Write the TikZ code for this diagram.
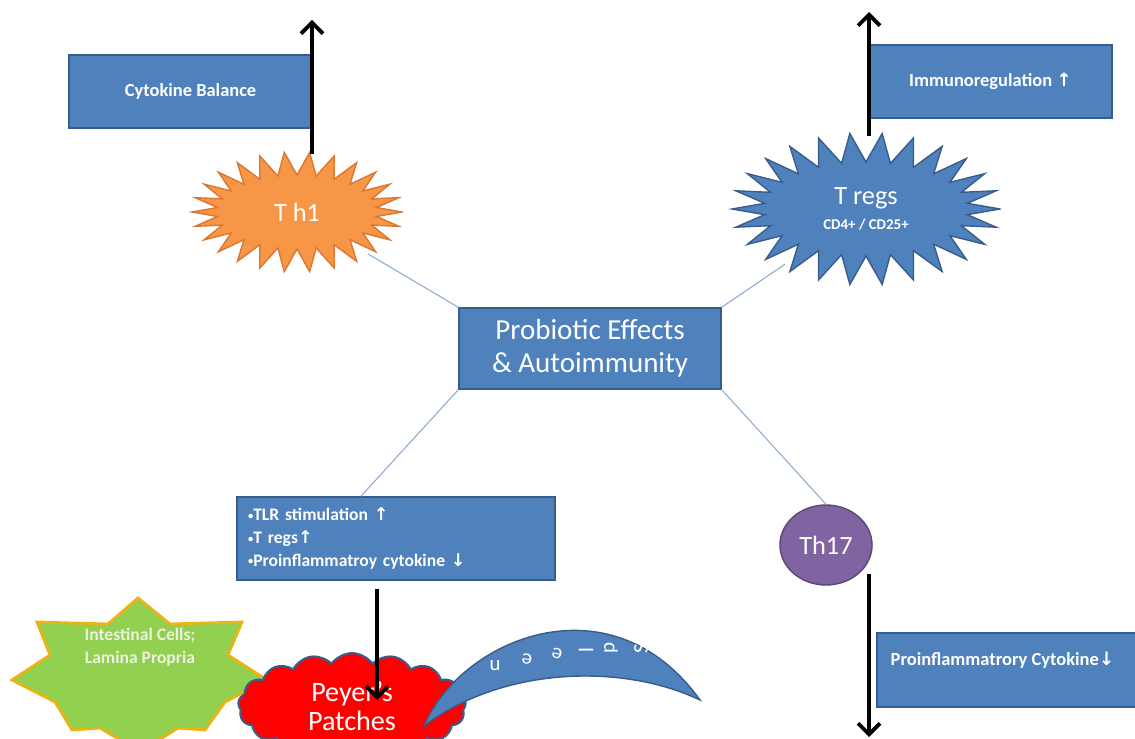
\documentclass[tikz,border=0pt]{standalone}
\usepackage{fontspec}
\setmainfont{Carlito}
\newfontfamily\symfont{DejaVu Sans}
\usetikzlibrary{calc,arrows.meta,shapes.geometric,shapes.symbols}
\definecolor{boxblue}{RGB}{79,129,189}
\definecolor{boxedge}{RGB}{56,93,138}
\definecolor{burstorange}{RGB}{247,150,70}
\definecolor{burstedge}{RGB}{218,120,50}
\definecolor{thpurple}{RGB}{128,100,162}
\definecolor{thedge}{RGB}{92,71,118}
\definecolor{leafgreen}{RGB}{146,208,80}
\definecolor{starline}{RGB}{235,180,20}
\definecolor{linkblue}{RGB}{140,170,210}
\definecolor{paletext}{RGB}{238,240,225}
\def\uparr{{\symfont\char"2191}}
\def\dnarr{{\symfont\char"2193}}
\def\dotmark{{\fontsize{6}{6}\selectfont\raisebox{0.3ex}{\textbullet}}}
\tikzset{
  bluebox/.style={draw=boxedge, fill=boxblue, line width=0.8pt, text=white,
    font=\bfseries\fontsize{10.5}{12}\selectfont},
  boxtext/.style={text=white, font=\bfseries\fontsize{10.5}{12}\selectfont, inner sep=0pt},
  link/.style={draw=linkblue, line width=0.6pt},
  bigarrow/.style={line width=2.2pt, -{Straight Barb[length=2.2mm,width=4.4mm]}},
  bursttext/.style={text=white, font=\fontsize{15}{17}\selectfont, align=center},
}

\begin{document}
\begin{tikzpicture}[x=0.02cm, y=-0.02cm]
  \useasboundingbox (0,0) rectangle (1135,739);
  %%%%% TOP LEFT %%%%%
  \node[bluebox, minimum width=4.86cm, minimum height=1.46cm] (cytbal) at (190.5,91.5) {Cytokine Balance};
  \coordinate (th1c) at (297,212);
  \draw[fill=burstorange, draw=burstedge, line width=0.8pt] ($(th1c)+(105,0)$)
    \foreach \k in {1,...,26} {
      -- ($(th1c)+({80*cos(\k*13.846-6.923)},{37*sin(\k*13.846-6.923)})$)
      -- ($(th1c)+({105*cos(\k*13.846)},{60*sin(\k*13.846)})$) } -- cycle;
  \node[bursttext] (th1) at (th1c) {T h1};
  \coordinate (th1top) at (312,154);
  \coordinate (th1up) at (312,20);
  \draw[bigarrow] (th1top) -- (th1up);

  %%%%% TOP RIGHT %%%%%
  \node[bluebox, minimum width=4.86cm, minimum height=1.46cm] (immreg) at (990.5,81.5) {Immunoregulation \uparr};
  \coordinate (tregsc) at (866,209);
  \draw[fill=boxblue, draw=boxedge, line width=0.8pt] ($(tregsc)+(134,0)$)
    \foreach \k in {1,...,26} {
      -- ($(tregsc)+({102*cos(\k*13.846-6.923)},{47*sin(\k*13.846-6.923)})$)
      -- ($(tregsc)+({134*cos(\k*13.846)},{76*sin(\k*13.846)})$) } -- cycle;
  \node[bursttext] (tregs) at (tregsc)
    {T regs\\[-3pt]{\bfseries\fontsize{8.5}{9}\selectfont CD4+ / CD25+}};
  \coordinate (tregstop) at (869,136);
  \coordinate (tregsup) at (869,12);
  \draw[bigarrow] (tregstop) -- (tregsup);

  %%%%% CENTRE %%%%%
  \node[bluebox, minimum width=5.24cm, minimum height=1.62cm, align=center,
    font=\fontsize{16.5}{18.7}\selectfont] (centre) at (590,348.5) {Probiotic Effects\\\& Autoimmunity};

  %%%%% BOTTOM %%%%%
  \node[bluebox, minimum width=6.36cm, minimum height=1.66cm, text width=5.92cm, align=left,
    font=\bfseries\fontsize{10}{13}\selectfont] (tlr) at (396,538.5)
    {\dotmark TLR stimulation \uparr\\\dotmark T regs\uparr\\\dotmark Proinflammatroy cytokine \dnarr};
  \node[ellipse, fill=thpurple, draw=thedge, line width=0.8pt, minimum width=1.68cm, minimum height=1.6cm,
    text=white, font=\fontsize{15}{17}\selectfont] (th17) at (826,545) {Th17};
  \node[bluebox, minimum width=5.24cm, minimum height=1.48cm] (proinf) at (1008,670) {};
  \node[boxtext, anchor=west] (proinftext) at ($(proinf.west)+(14,-10)$) {Proinflammatrory Cytokine\dnarr};
  \coordinate (th17down) at (869,737);
  \draw[bigarrow] (th17.south east -| th17down) -- (th17down);

  \draw[link] (centre.north west) -- ($(centre.north west)!0.56!(th1)$);
  \draw[link] (centre.north east) -- ($(centre.north east)!0.44!(tregs)$);
  \draw[link] (centre.south west) -- ($(tlr.north west)!0.39!(tlr.north east)$);
  \draw[link] (centre.south east) -- (th17.north);

  % gut star
  \draw[fill=leafgreen, draw=starline, line width=1.6pt, line join=miter]
    (138,598) -- (170,624) -- (242,622) -- (228,655) -- (267,680) -- (225,702) -- (205,730)
    -- (178,728) -- (140,752) -- (100,728) -- (72,730) -- (55,702) -- (12,680) -- (50,655)
    -- (37,622) -- (108,624) -- cycle;
  \node[text=paletext, font=\bfseries\fontsize{10}{13}\selectfont, align=center] (gut) at (140,647)
    {Intestinal Cells;\\Lamina Propria};

  \node[cloud, cloud puffs=17, cloud puff arc=110, aspect=2.6, fill=red, draw=boxedge, line width=1.2pt,
    minimum width=4.4cm, minimum height=1.65cm, text=white, align=center,
    font=\fontsize{16}{16.5}\selectfont] (peyer) at (352,706) {Peyer's\\Patches};

  % spleen
  \draw[fill=boxblue, draw=boxedge, line width=0.8pt]
    (424,726) .. controls (460,640) and (610,575) .. (700,700)
    .. controls (620,662) and (500,668) .. cycle;
  \foreach \ch/\px/\py/\rot [count=\k] in {n/495/666/180, e/527/659/175, e/557/654/170,
      l/586/650/90, p/611/648/90, S/641/649/90}
    \node[text=white, font=\fontsize{12}{13}\selectfont, rotate=\rot, inner sep=0pt] (spl\k) at (\px,\py) {\ch};

  \coordinate (peyerin) at (377,700);
  \draw[bigarrow] ($(tlr.south -| peyerin)+(0,8)$) -- (peyerin);
\end{tikzpicture}
\end{document}
